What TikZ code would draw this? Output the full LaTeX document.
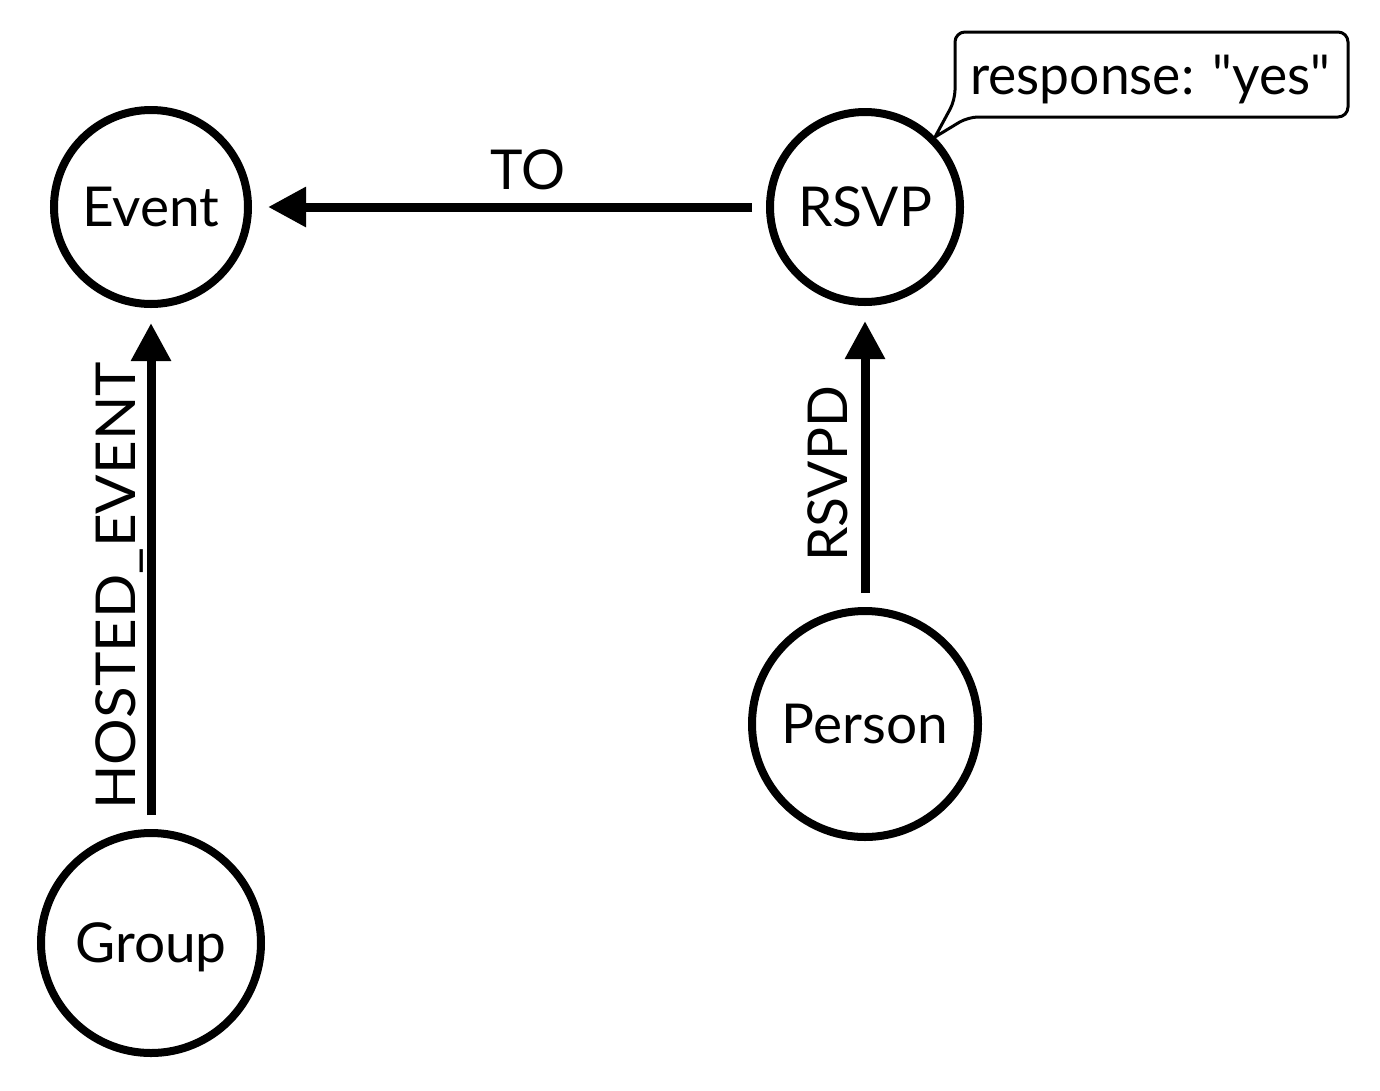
\documentclass[tikz,border=0pt]{standalone}
\usepackage{fontspec}
\setmainfont{Lato}[Ligatures=TeXOff]
\usetikzlibrary{arrows.meta}
\begin{document}
\begin{tikzpicture}[x=1pt,y=-1pt,
  entity/.style={circle,draw,line width=8pt,inner sep=0pt,
    font=\fontsize{55}{60}\selectfont,text height=39.5pt,text depth=0pt},
  rel/.style={line width=9pt,-{Triangle[length=38pt,width=38pt]},
    shorten <=14pt,shorten >=15pt},
  lbl/.style={font=\fontsize{55}{60}\selectfont,inner sep=0pt}]
\useasboundingbox (0,0) rectangle (1380,1090);
\node[entity,minimum size=194pt] (event) at (151,207) {Event};
\node[entity,minimum size=190pt] (rsvp) at (865,207) {RSVP};
\node[entity,minimum size=226pt] (person) at (865,724) {Person};
\node[entity,minimum size=220pt] (group) at (151,943) {Group};
\draw[rel,shorten >=16pt] (rsvp.west) -- (event.east);
\draw[rel] (group.north) -- (event.south);
\draw[rel] (person.north) -- (rsvp.south);
\node[lbl,anchor=base] (tolbl) at (528,189) {TO};
\node[lbl,anchor=base,rotate=90,xscale=1.06] (hostlbl) at (135,586) {HOSTED\_EVENT};
\node[lbl,anchor=base,rotate=90] (rsvpdlbl) at (847,474) {RSVPD};
\node[lbl,anchor=base west,xscale=0.97] (resp) at (970,94) {response: "yes"};
\draw[line width=3pt,rounded corners=10pt]
  (rsvp.north east) -- (955,100) -- (955,32) -- (1348,32) -- (1348,117) -- (968,117) [sharp corners] -- cycle;
\end{tikzpicture}
\end{document}
